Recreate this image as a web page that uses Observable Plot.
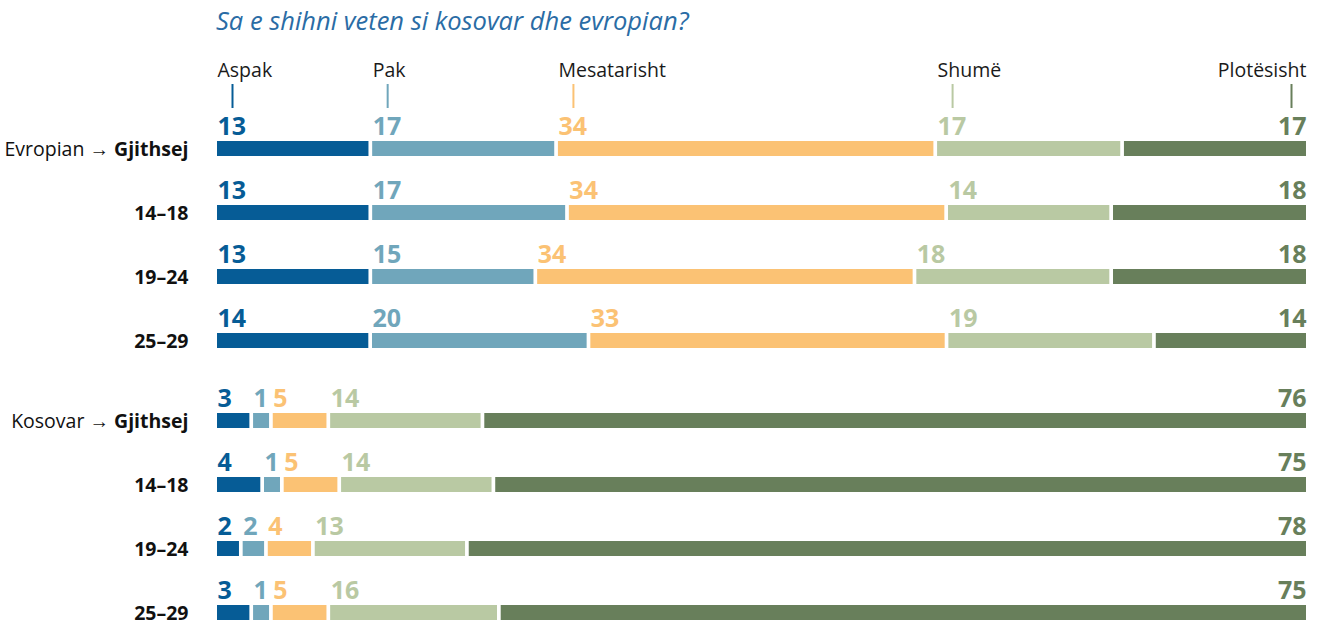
<!DOCTYPE html>
<html><head><meta charset="utf-8">
<script src="https://cdn.jsdelivr.net/npm/d3@7"></script>
<script src="https://cdn.jsdelivr.net/npm/@observablehq/plot@0.6"></script>
<style>
html,body{margin:0;padding:0;background:#fff;overflow:hidden;}
body{width:1321px;height:622px;position:relative;font-family:"Open Sans",sans-serif;}
#title{position:absolute;left:216px;top:3px;font-style:italic;font-size:25.5px;color:#2a6ca5;white-space:nowrap;line-height:34px;}
#p1{position:absolute;left:0;top:0}
#p2{position:absolute;left:0;top:372px}
</style></head><body>
<div id="p1"></div><div id="p2"></div>
<div id="title">Sa e shihni veten si kosovar dhe evropian?</div>
<script>
const categories = ["Aspak", "Pak", "Mesatarisht", "Shumë", "Plotësisht"];
const colors = ["#065c96", "#70a6bb", "#fbc274", "#b9c9a3", "#687f5b"];
const rowLabels = ["Gjithsej", "14–18", "19–24", "25–29"];
const groupLabels = ["Evropian", "Kosovar"];

// printed percentages
const evropianLabels = [
  [13, 17, 34, 17, 17],
  [13, 17, 34, 14, 18],
  [13, 15, 34, 18, 18],
  [14, 20, 33, 19, 14]
];
const kosovarLabels = [
  [3, 1, 5, 14, 76],
  [4, 1, 5, 14, 75],
  [2, 2, 4, 13, 78],
  [3, 1, 5, 16, 75]
];
// bar lengths (percent of row)
const evropianShares = [
  [14.2, 17.0, 34.7, 17.1, 17.0],
  [14.2, 18.0, 34.7, 15.1, 18.0],
  [14.2, 15.1, 34.7, 18.0, 18.0],
  [14.2, 20.0, 32.8, 19.0, 14.1]
];
const kosovarShares = [
  [3.3, 1.8, 5.25, 14.1, 75.5],
  [4.3, 1.8, 5.25, 14.1, 74.5],
  [2.35, 2.3, 4.3, 14.1, 77.0],
  [3.3, 1.8, 5.25, 15.6, 74.0]
];

const FONT = "Open Sans";
const lastCat = categories[categories.length - 1];
const GAP = 3.7;

function tidy(labels, shares) {
  const out = [];
  labels.forEach((row, i) => row.forEach((v, j) =>
    out.push({row: rowLabels[i], cat: categories[j], label: v, share: shares[i][j]})));
  return out;
}

const LABEL_SIZE = 19.5;
const NUM_SIZE = 25;
const ctx = document.createElement("canvas").getContext("2d");
ctx.font = `bold ${LABEL_SIZE}px "${FONT}"`;
const boldW = ctx.measureText(rowLabels[0]).width;
ctx.font = `${LABEL_SIZE}px "${FONT}"`;
const spaceW = ctx.measureText(" ").width;

function rowMarks(data, group) {
  const st = {x: "share", y: "row", offset: "normalize"};
  return [
    Plot.barX(data, Plot.stackX({...st, fill: "cat", insetLeft: 0, insetRight: GAP, insetTop: 25, insetBottom: 24})),
    Plot.text(data, Plot.filter(d => d.cat !== lastCat, Plot.stackX1({...st, text: "label", fill: "cat",
      textAnchor: "start", dx: 0, dy: -21.5, fontSize: NUM_SIZE, fontWeight: "bold"}))),
    Plot.text(data, Plot.filter(d => d.cat === lastCat, Plot.stackX2({...st, text: "label", fill: "cat",
      textAnchor: "end", dx: -GAP, dy: -21.5, fontSize: NUM_SIZE, fontWeight: "bold"}))),
    Plot.text(rowLabels, {x: 0, y: d => d, text: d => d, textAnchor: "end", dx: -29, dy: 1,
      fontSize: LABEL_SIZE, fontWeight: "bold", fill: "#111"}),
    Plot.text([rowLabels[0]], {x: 0, y: d => d, text: () => group + " →", textAnchor: "end",
      dx: -29 - boldW - spaceW, dy: 1, fontSize: LABEL_SIZE, fill: "#111"})
  ];
}

const colorScale = {domain: categories, range: colors};
const xScale = {domain: [0, 1], range: [217, 1306 + GAP]};

// Plot 1: header + Evropian
const data1 = tidy(evropianLabels, evropianShares);
const header = data1.filter(d => d.row === rowLabels[0]);
const hs = {x: "share", y: () => "hdr", offset: "normalize"};
const plot1 = Plot.plot({
  width: 1321, height: 372,
  x: {...xScale, axis: null},
  y: {domain: ["hdr", ...rowLabels], range: [52, 372], padding: 0, axis: null},
  color: colorScale,
  style: {fontFamily: FONT, background: "transparent"},
  marks: [
    Plot.text(header, Plot.filter(d => d.cat !== lastCat, Plot.stackX1({...hs, text: "cat",
      textAnchor: "start", dx: 0, dy: -14, fontSize: 19.5, fill: "#1a1a1a"}))),
    Plot.text(header, Plot.filter(d => d.cat === lastCat, Plot.stackX2({...hs, text: "cat",
      textAnchor: "end", dx: -GAP, dy: -14, fontSize: 19.5, fill: "#1a1a1a"}))),
    Plot.tickX(header, Plot.filter(d => d.cat !== lastCat, Plot.stackX1({...hs, stroke: "cat",
      dx: 15, insetTop: 32, insetBottom: 8, strokeWidth: 2}))),
    Plot.tickX(header, Plot.filter(d => d.cat === lastCat, Plot.stackX2({...hs, stroke: "cat",
      dx: -GAP - 15, insetTop: 32, insetBottom: 8, strokeWidth: 2}))),
    ...rowMarks(data1, groupLabels[0])
  ]
});
document.getElementById("p1").append(plot1);

// Plot 2: Kosovar
const data2 = tidy(kosovarLabels, kosovarShares);
const plot2 = Plot.plot({
  width: 1321, height: 250,
  x: {...xScale, axis: null},
  y: {domain: rowLabels, range: [16, 272], padding: 0, axis: null},
  color: colorScale,
  style: {fontFamily: FONT, background: "transparent"},
  marks: rowMarks(data2, groupLabels[1])
});
document.getElementById("p2").append(plot2);
</script>
</body></html>
